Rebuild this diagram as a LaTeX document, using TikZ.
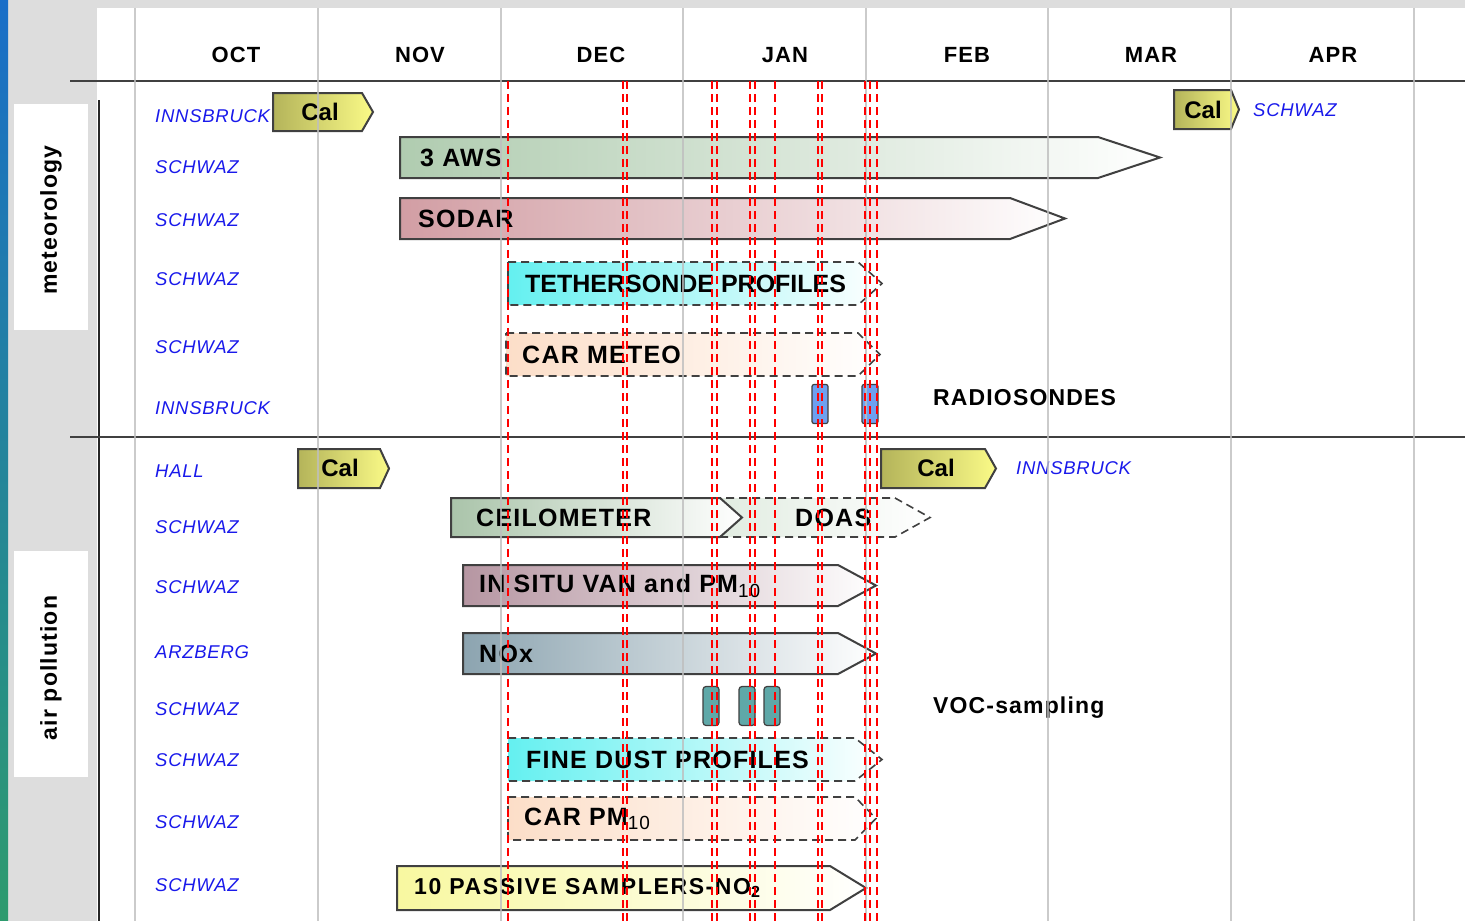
\documentclass[tikz,border=0pt]{standalone}
\usepackage{fontspec}
\setmainfont{Liberation Sans}
\newfontfamily\spfont[LetterSpace=5.0]{Liberation Sans}
\newfontfamily\spwfont[LetterSpace=7.0]{Liberation Sans}
\newfontfamily\plfont[LetterSpace=4.0]{Liberation Sans}
\definecolor{bgray}{RGB}{221,221,221}
\definecolor{gridc}{RGB}{190,190,190}
\definecolor{lblue}{RGB}{25,25,235}
\definecolor{stripT}{RGB}{25,110,200}
\definecolor{stripB}{RGB}{45,155,110}
\definecolor{cAWS}{RGB}{176,204,176}
\definecolor{cSODAR}{RGB}{210,158,164}
\definecolor{cCyan}{RGB}{100,240,240}
\definecolor{cPeach}{RGB}{252,222,200}
\definecolor{cCeil}{RGB}{170,196,170}
\definecolor{cDoas}{RGB}{222,234,222}
\definecolor{cInsitu}{RGB}{182,150,162}
\definecolor{cNox}{RGB}{140,164,176}
\definecolor{cPass}{RGB}{248,248,160}
\definecolor{calL}{RGB}{180,180,90}
\definecolor{calR}{RGB}{250,250,135}
\definecolor{cRs}{RGB}{110,160,240}
\definecolor{cVoc}{RGB}{95,168,168}
\definecolor{edge}{RGB}{64,64,64}
\newcommand\mybar[7]{%
  \path[#1, left color=#2, right color=white] (#3,#6) -- (#4,#6) -- (#5,{(#6+#7)/2}) -- (#4,#7) -- (#3,#7) -- cycle;}
\newcommand\mycal[5]{%
  \path[solidbar, left color=calL, right color=calR] (#1,#4) -- (#2,#4) -- (#3,{(#4+#5)/2}) -- (#2,#5) -- (#1,#5) -- cycle;}
\begin{document}
\begin{tikzpicture}[x=1pt,y=-1pt,
  solidbar/.style={draw=edge, line width=2pt, line join=miter},
  dashbar/.style={draw=edge, line width=1.6pt, dash pattern=on 8pt off 5pt},
  bartext/.style={font=\spfont\bfseries\fontsize{25}{28}\selectfont, inner sep=0pt, anchor=west},
  caltext/.style={font=\bfseries\fontsize{24}{28}\selectfont, inner sep=0pt},
  month/.style={font=\spfont\bfseries\fontsize{22}{26}\selectfont, inner sep=0pt},
  place/.style={font=\plfont\itshape\fontsize{18.5}{22}\selectfont, text=lblue, inner sep=0pt, anchor=west},
  side/.style={font=\spfont\bfseries\fontsize{23}{26}\selectfont, inner sep=0pt, rotate=90},
  redline/.style={red, line width=2pt, dash pattern=on 8pt off 5pt},
  gridline/.style={gridc, line width=1.5pt, opacity=0.8},
  rsonde/.style={draw=edge, line width=1.2pt, fill=cRs, rounded corners=2pt, minimum width=16pt, minimum height=39pt, inner sep=0pt},
  vocbox/.style={draw=edge, line width=1.2pt, fill=cVoc, rounded corners=3pt, minimum width=16pt, minimum height=39pt, inner sep=0pt}]
\useasboundingbox (0,0) rectangle (1465,921);
% background
\fill[bgray] (0,0) rectangle (1465,921);
\fill[white] (97,8) rectangle (1465,921);
\shade[top color=stripT, bottom color=stripB] (0,0) rectangle (8,921);
% side boxes
\fill[white] (14,104) rectangle (88,330);
\fill[white] (14,551) rectangle (88,777);
\node[side] (s-met) at (51,220) {meteorology};
\node[side] (s-air) at (51,668) {air pollution};
% frame lines
\draw[black!85, line width=2pt] (99,100) -- (99,921);
\draw[edge, line width=2pt] (70,81) -- (1465,81);
\draw[edge, line width=2pt] (70,437) -- (1465,437);
% months
\node[month] (m-oct) at (236,55) {OCT};
\node[month] (m-nov) at (420,55) {NOV};
\node[month] (m-dec) at (601,55) {DEC};
\node[month] (m-jan) at (785,55) {JAN};
\node[month] (m-feb) at (967,55) {FEB};
\node[month] (m-mar) at (1151,55) {MAR};
\node[month] (m-apr) at (1333,55) {APR};
% place labels
\node[place] (p1) at (155,116) {INNSBRUCK};
\node[place] (p2) at (155,167) {SCHWAZ};
\node[place] (p3) at (155,220) {SCHWAZ};
\node[place] (p4) at (155,279) {SCHWAZ};
\node[place] (p5) at (155,347) {SCHWAZ};
\node[place] (p6) at (155,408) {INNSBRUCK};
\node[place] (p7) at (155,471) {HALL};
\node[place] (p8) at (155,527) {SCHWAZ};
\node[place] (p9) at (155,587) {SCHWAZ};
\node[place] (p10) at (155,652) {ARZBERG};
\node[place] (p11) at (155,709) {SCHWAZ};
\node[place] (p12) at (155,760) {SCHWAZ};
\node[place] (p13) at (155,822) {SCHWAZ};
\node[place] (p14) at (155,885) {SCHWAZ};
\node[place] (p15) at (1253,110) {SCHWAZ};
\node[place] (p16) at (1016,468) {INNSBRUCK};
% Cal boxes
\mycal{273}{362}{373}{93}{131}
\node[caltext] (cal1) at (320,112) {Cal};
\mycal{1174}{1231}{1239}{90}{129}
\node[caltext] (cal2) at (1203,110) {Cal};
\mycal{298}{380}{389}{449}{488}
\node[caltext] (cal3) at (340,468) {Cal};
\mycal{881}{985}{996}{449}{488}
\node[caltext] (cal4) at (936,468) {Cal};
% bars
\mybar{solidbar}{cAWS}{400}{1098}{1160}{137}{178}
\node[bartext] (b-aws) at (420,158) {3 AWS};
\mybar{solidbar}{cSODAR}{400}{1010}{1065}{198}{239}
\node[bartext] (b-sodar) at (418,219) {SODAR};
\mybar{dashbar}{cCyan}{508}{858}{882}{262}{305}
\node[bartext, font=\bfseries\fontsize{25}{28}\selectfont] (b-teth) at (525,284) {TETHERSONDE PROFILES};
\mybar{dashbar}{cPeach}{506}{858}{880}{333}{376}
\node[bartext] (b-carm) at (522,355) {CAR METEO};
\node[rsonde] (rs1) at (820,404) {};
\node[rsonde] (rs2) at (870,404) {};
\node[bartext, font=\spfont\bfseries\fontsize{23}{26}\selectfont] (l-rs) at (933,398) {RADIOSONDES};
\mybar{dashbar}{cDoas}{700}{895}{930}{498}{537}
\mybar{solidbar}{cCeil}{451}{720}{742}{498}{537}
\node[bartext] (b-ceil) at (476,518) {CEILOMETER};
\node[bartext] (b-doas) at (795,518) {DOAS};
\mybar{solidbar}{cInsitu}{463}{838}{876}{565}{606}
\node[bartext] (b-insitu) at (479,586) {IN SITU VAN and PM\textsubscript{\mdseries\fontsize{19}{20}\selectfont 10}};
\mybar{solidbar}{cNox}{463}{838}{876}{633}{674}
\node[bartext] (b-nox) at (479,654) {NOx};
\node[vocbox] (v1) at (711,706) {};
\node[vocbox] (v2) at (747,706) {};
\node[vocbox] (v3) at (772,706) {};
\node[bartext, font=\spfont\bfseries\fontsize{23}{26}\selectfont] (l-voc) at (933,708) {VOC-sampling};
\mybar{dashbar}{cCyan}{508}{855}{882}{738}{781}
\node[bartext] (b-fine) at (526,760) {FINE DUST PROFILES};
\mybar{dashbar}{cPeach}{508}{855}{876}{797}{840}
\node[bartext] (b-carpm) at (524,819) {CAR PM\textsubscript{\mdseries\fontsize{19}{20}\selectfont 10}};
\mybar{solidbar}{cPass}{397}{830}{866}{866}{910}
\node[bartext, font=\spwfont\bfseries\fontsize{23}{26}\selectfont] (b-pass) at (414,888) {10 PASSIVE SAMPLERS-NO\textsubscript{2}};
% grid lines
\foreach \gx in {135,318,501,683,866,1048,1231,1414}
  \draw[gridline] (\gx,8) -- (\gx,921);
% red dashed event lines
\foreach \rx in {508,623,627,712,717,750,755,775,818,822,865,870,877}
  \draw[redline] (\rx,81) -- (\rx,921);
\end{tikzpicture}
\end{document}
